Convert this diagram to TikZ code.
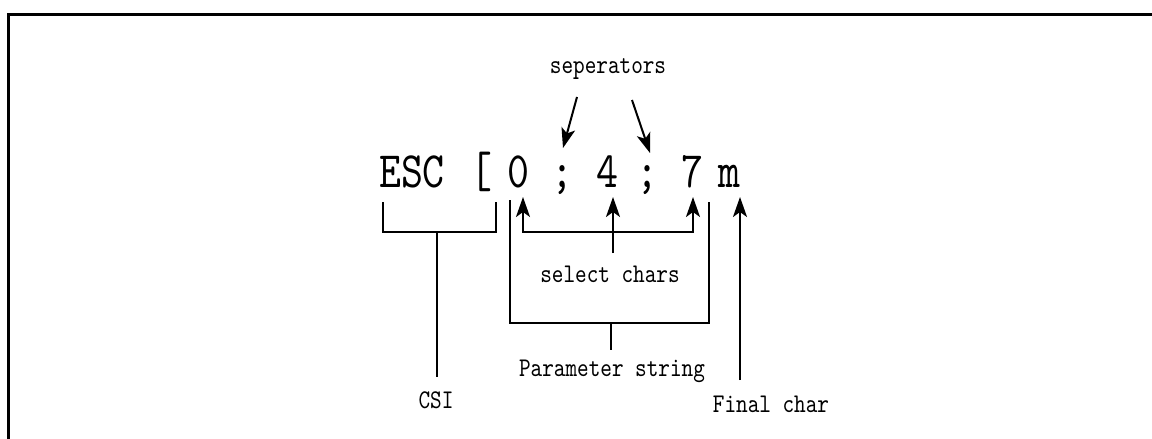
\documentclass[tikz,border=0pt]{standalone}
\usepackage{fontspec}
\newfontfamily\codefont[FakeStretch=0.82]{lmmono10-regular.otf}
\usetikzlibrary{arrows.meta}

\begin{document}
\begin{tikzpicture}[
    x=1pt, y=-1pt,
    big/.style={font=\codefont\fontsize{51}{51}\selectfont, inner sep=0pt, anchor=base},
    lbl/.style={font=\codefont\fontsize{27}{27}\selectfont, inner sep=0pt, anchor=base},
    line/.style={line width=2pt},
    arrow/.style={line width=2pt, -{Stealth[length=20pt,width=14pt,inset=5pt]}}
]
\useasboundingbox (0,0) rectangle (1152,439);
\clip (0,0) rectangle (1152,439);
\draw[line width=3pt] (8,520) -- (8,14) -- (1200,14);

% the escape sequence
\node[big] (esc) at (412,187) {ESC};
\node[big] (lb)  at (481,187) {[};
\node[big] (c0)  at (518,187) {0};
\node[big] (s1)  at (562,187) {;};
\node[big] (c4)  at (607,187) {4};
\node[big] (s2)  at (647,187) {;};
\node[big] (c7)  at (692,187) {7};
\node[big] (cm)  at (729,187) {m};

% labels
\node[lbl] (sep)   at (608,73)  {seperators};
\node[lbl] (sel)   at (610,282) {select chars};
\node[lbl] (param) at (612,376) {Parameter string};
\node[lbl] (csi)   at (436,408) {CSI};
\node[lbl] (fin)   at (771,412) {Final char};

% free ends
\coordinate (sepL) at (577,97);
\coordinate (sepR) at (632,100);
\coordinate (tipS1) at (563,148);
\coordinate (tipS2) at (650,153);
\coordinate (tip0) at (523,197);
\coordinate (tip4) at (613,197);
\coordinate (tip7) at (693,197);
\coordinate (tipm) at (740,197);
\coordinate (selTop) at (613,253);
\coordinate (finTop) at (740,380);

% seperators
\draw[arrow] (sepL) -- (tipS1);
\draw[arrow] (sepR) -- (tipS2);

% select chars
\draw[line, {Stealth[length=20pt,width=14pt,inset=5pt]}-{Stealth[length=20pt,width=14pt,inset=5pt]}]
  (tip0) -- (523,232) -- (693,232) -- (tip7);
\draw[arrow] (selTop) -- (tip4);

% CSI bracket
\draw[line] (383,202) -- (383,232) -- (496,232) -- (496,202);
\draw[line] (437,232) -- (437,377);

% parameter string bracket
\draw[line] (510,200) -- (510,323) -- (709,323) -- (709,202);
\draw[line] (611,323) -- (611,350);

% final char
\draw[arrow] (finTop) -- (tipm);
\end{tikzpicture}
\end{document}
